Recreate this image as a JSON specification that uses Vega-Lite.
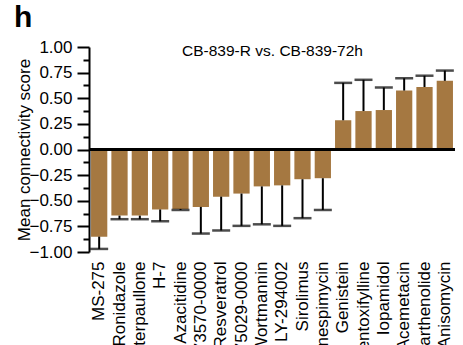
{
  "$schema": "https://vega.github.io/schema/vega-lite/v6.json",
  "width": 366,
  "height": 205,
  "autosize": {"type": "none"},
  "padding": {"left": 89, "top": 47, "right": 8, "bottom": 93},
  "title": {"text": "h", "anchor": "start", "frame": "group", "dx": -75, "offset": 5, "fontSize": 30, "fontWeight": "bold", "font": "Liberation Sans", "color": "black"},
  "config": {"view": {"stroke": null}, "font": "Liberation Sans"},
  "data": {"values": [
    {"drug": "MS-275", "mean": -0.85, "end": -0.97},
    {"drug": "Ronidazole", "mean": -0.645, "end": -0.68},
    {"drug": "Alsterpaullone", "mean": -0.645, "end": -0.68},
    {"drug": "H-7", "mean": -0.585, "end": -0.70},
    {"drug": "Azacitidine", "mean": -0.58, "end": -0.59},
    {"drug": "73570-0000", "mean": -0.56, "end": -0.82},
    {"drug": "Resveratrol", "mean": -0.46, "end": -0.79},
    {"drug": "75029-0000", "mean": -0.43, "end": -0.745},
    {"drug": "Wortmannin", "mean": -0.36, "end": -0.73},
    {"drug": "LY-294002", "mean": -0.35, "end": -0.745},
    {"drug": "Sirolimus", "mean": -0.29, "end": -0.67},
    {"drug": "Tanespimycin", "mean": -0.28, "end": -0.59},
    {"drug": "Genistein", "mean": 0.285, "end": 0.65},
    {"drug": "Pentoxifylline", "mean": 0.375, "end": 0.68},
    {"drug": "Iopamidol", "mean": 0.385, "end": 0.605},
    {"drug": "Acemetacin", "mean": 0.575, "end": 0.695},
    {"drug": "Parthenolide", "mean": 0.61, "end": 0.72},
    {"drug": "Anisomycin", "mean": 0.67, "end": 0.77}
  ]},
  "resolve": {"axis": {"x": "independent", "y": "independent"}},
  "layer": [
    {
      "mark": {"type": "bar", "color": "#A57841"},
      "encoding": {
        "x": {"field": "drug", "type": "nominal", "sort": null,
          "scale": {"paddingInner": 0.2, "paddingOuter": 0.1},
          "axis": {"orient": "bottom", "title": null, "domain": false, "ticks": false, "labelAngle": -90, "labelFontSize": 17, "labelColor": "black", "labelPadding": 9, "labelBound": false, "labelOverlap": false}},
        "y": {"field": "mean", "type": "quantitative",
          "scale": {"domain": [-1, 1], "nice": false, "zero": false},
          "axis": {
            "orient": "left",
            "values": [-1, -0.875, -0.75, -0.625, -0.5, -0.375, -0.25, -0.125, 0, 0.125, 0.25, 0.375, 0.5, 0.625, 0.75, 0.875, 1],
            "labelExpr": "abs(datum.value*4 - round(datum.value*4)) < 0.001 ? format(datum.value, '.2f') : ''",
            "tickSize": {"condition": {"test": "abs(datum.value*4 - round(datum.value*4)) < 0.001", "value": 12}, "value": 6},
            "tickWidth": 2, "tickColor": "black", "domainWidth": 2, "domainColor": "black",
            "labelFontSize": 17, "labelColor": "black", "labelPadding": 5, "labelOverlap": false, "labelFlush": false,
            "grid": false,
            "title": "Mean connectivity score", "titleFontSize": 17, "titleFontWeight": "normal", "titleColor": "black", "titlePadding": -5
          }}
      }
    },
    {
      "mark": {"type": "rule", "color": "black", "strokeWidth": 2},
      "encoding": {
        "x": {"field": "drug", "type": "nominal", "sort": null, "axis": null},
        "y": {"field": "mean", "type": "quantitative", "axis": null},
        "y2": {"field": "end"}
      }
    },
    {
      "mark": {"type": "tick", "color": "black", "thickness": 2.5, "size": 18},
      "encoding": {
        "x": {"field": "drug", "type": "nominal", "sort": null,
          "axis": {"orient": "top", "title": "CB-839-R vs. CB-839-72h", "titleFontSize": 15.5, "titleFontWeight": "normal", "titleColor": "black", "titlePadding": -11, "labels": false, "ticks": false, "domain": false}},
        "y": {"field": "end", "type": "quantitative", "axis": null}
      }
    },
    {
      "mark": {"type": "rule", "color": "black", "strokeWidth": 2},
      "encoding": {"y": {"datum": 0, "axis": null}}
    }
  ]
}
